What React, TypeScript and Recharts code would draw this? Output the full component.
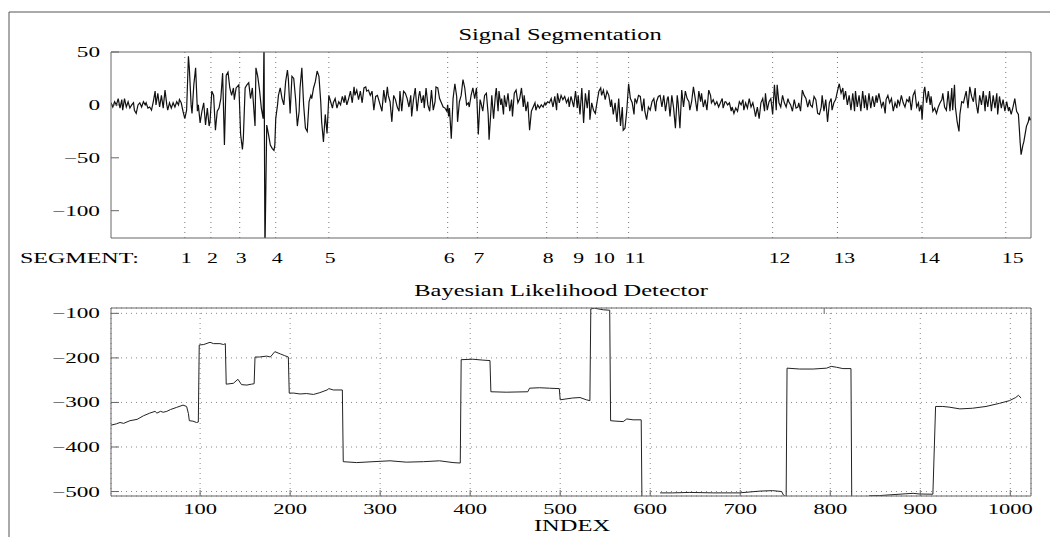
import { LineChart, Line, XAxis, YAxis, CartesianGrid, ReferenceLine } from 'recharts'

const SERIF = '"Liberation Serif", "Times New Roman", serif'
const BOX = '#666'

// segment boundaries (sample index) found by the detector
const SEG_POS = [83, 112, 144, 184, 243, 375, 408, 485, 519, 541, 576, 736, 808, 902, 995]
const SIG_TICKS = [-100, -50, 0, 50]
const DET_TICKS = [-500, -400, -300, -200, -100]
const IDX_TICKS = [100, 200, 300, 400, 500, 600, 700, 800, 900, 1000]

// [index, value]
const SIGNAL: [number, number][] = [
  [1, 2], [3, -2], [5, 3], [7, 0], [9, 6], [11, -3], [13, 5], [14, -5], [16, 6], [18, -2],
  [20, 3], [22, -3], [24, 0], [26, 2], [27, -5], [29, -8], [31, 0], [33, 2], [35, -2], [37, 3],
  [39, 0], [40, 2], [42, -3], [44, -2], [46, -5], [48, 3], [50, 13], [51, 0], [53, 11], [55, -2],
  [57, 9], [59, -3], [61, 14], [63, 0], [64, -5], [66, 2], [68, -3], [70, 2], [72, -2], [74, 3],
  [76, 0], [77, 5], [79, 2], [81, -6], [83, -13], [85, -5], [87, 46], [88, 35], [90, 0], [91, -8],
  [93, 19], [95, 35], [97, -6], [98, 0], [100, -17], [102, -6], [104, 2], [106, -19], [108, -3], [110, -20],
  [111, -16], [113, 13], [115, 9], [117, -24], [119, -6], [121, -3], [123, 6], [125, 30], [127, -38], [129, 28],
  [131, 31], [133, 16], [135, 9], [137, 16], [138, 5], [140, 16], [143, 19], [145, -28], [147, -42], [148, -32],
  [150, 16], [152, 19], [154, 21], [156, 6], [158, 16], [161, -20], [162, 35], [164, 27], [166, 14], [168, -3],
  [170, -13], [171, 62], [172, -140], [174, -19], [176, -28], [178, -38], [180, -41], [182, -43], [183, -38], [184, -13],
  [186, 0], [187, 9], [189, 16], [191, 6], [193, 0], [195, 22], [197, 33], [198, 25], [200, -8], [202, 27],
  [204, 25], [206, 6], [208, -20], [210, -6], [211, 16], [213, 35], [215, 0], [217, -22], [219, -25], [221, 3],
  [223, 9], [224, 6], [226, 16], [228, 22], [230, 32], [232, 27], [234, 3], [235, -16], [237, -35], [239, -9],
  [241, -27], [243, 9], [245, 3], [247, -3], [248, 2], [250, 6], [252, -3], [254, 3], [256, 0], [258, 8],
  [260, 2], [261, 9], [263, 0], [265, 6], [267, 13], [269, 2], [271, 17], [272, 9], [274, 14], [276, 5],
  [278, 13], [280, 2], [282, 16], [284, 17], [285, 13], [287, 14], [289, 9], [291, 13], [293, -5], [295, 8],
  [297, 9], [298, 6], [300, 0], [302, -6], [304, 14], [306, 2], [308, 17], [309, 9], [311, 3], [313, -16],
  [315, 9], [317, 5], [319, -2], [321, -6], [322, 13], [324, -6], [326, 13], [328, 11], [330, 6], [332, -2],
  [334, 9], [335, -11], [337, 5], [339, 16], [341, -6], [343, 9], [344, 13], [346, 2], [348, 9], [349, -3],
  [351, 16], [353, 0], [355, -6], [357, 14], [359, -5], [361, 3], [362, 17], [364, 16], [366, 6], [368, 2],
  [370, -2], [372, -3], [374, -6], [375, 0], [376, -11], [377, -3], [379, -32], [381, 6], [383, 20], [385, 8],
  [386, -16], [388, 3], [390, 9], [392, 24], [394, 16], [396, 0], [398, 2], [399, -2], [401, 9], [403, 16],
  [405, 6], [407, 16], [409, -28], [411, 5], [412, 2], [414, -6], [416, 9], [418, 11], [420, -9], [421, -33],
  [423, -6], [424, 9], [425, -2], [426, -13], [428, 9], [429, 16], [431, -6], [432, 13], [434, 0], [435, 6],
  [437, -9], [438, 9], [440, -2], [442, 11], [444, -6], [446, 5], [447, -11], [449, 11], [451, 14], [453, 2],
  [455, 6], [457, 16], [459, -2], [460, 9], [462, -6], [464, 3], [466, -24], [468, -6], [470, -2], [472, 2],
  [473, -5], [475, 0], [477, -3], [479, 0], [481, -2], [483, 2], [484, 0], [486, 3], [488, 2], [490, 6],
  [492, -2], [494, 8], [496, -5], [497, 11], [499, 2], [501, 9], [503, 5], [505, 8], [507, 2], [509, 6],
  [510, -2], [512, 8], [513, 5], [515, -2], [517, 13], [519, -3], [520, 9], [522, -9], [524, 16], [526, -17],
  [528, 11], [530, -3], [532, 14], [533, -14], [535, 2], [537, -5], [539, -8], [541, 3], [543, 13], [545, 16],
  [546, 9], [548, 14], [550, 5], [552, 13], [554, 9], [556, -2], [557, 5], [559, -9], [561, 2], [563, -16],
  [565, 6], [567, -20], [569, -2], [570, -24], [572, -22], [574, -5], [576, 20], [578, 6], [580, 2], [582, -9],
  [583, 6], [585, 2], [587, 9], [589, 8], [591, -6], [593, 6], [594, -6], [596, -14], [598, -2], [600, -5],
  [602, 3], [604, 6], [606, -6], [607, 3], [609, 8], [611, 9], [613, -2], [615, 9], [617, -6], [619, 6],
  [620, 8], [622, -11], [624, 9], [626, -3], [628, -22], [630, 9], [631, 2], [633, -22], [635, 14], [637, -2],
  [639, 13], [641, 6], [643, 3], [644, -5], [646, 3], [648, 17], [650, 6], [652, -6], [654, 13], [656, 3],
  [657, 11], [659, -2], [661, 5], [663, -5], [665, 14], [667, 9], [668, 2], [670, 5], [672, 0], [674, 3],
  [676, -2], [678, 2], [680, 6], [681, -3], [683, 3], [684, 3], [686, 0], [688, 2], [690, -6], [691, -2],
  [693, -8], [695, -3], [697, -6], [699, 3], [701, 0], [703, 5], [704, -5], [706, 2], [708, -3], [710, 6],
  [712, -2], [714, 2], [716, -6], [717, -11], [719, -2], [721, -13], [723, 2], [725, 6], [727, -6], [728, 11],
  [730, -5], [732, 3], [734, 6], [736, -9], [738, 19], [740, -5], [741, 19], [743, 2], [745, -2], [747, 9],
  [749, 2], [751, -2], [753, 6], [754, 3], [756, 0], [758, -6], [760, 5], [762, -3], [764, -2], [765, 2],
  [767, -6], [769, 14], [771, 9], [773, 6], [775, -2], [777, 5], [778, 0], [780, -2], [782, 8], [784, 5],
  [786, -8], [788, -9], [790, -2], [791, 9], [793, -6], [795, 5], [797, -16], [799, 2], [801, 6], [802, -5],
  [804, 2], [806, 5], [808, 13], [810, 20], [812, 11], [814, 16], [815, 5], [817, 13], [819, 0], [821, 9],
  [823, -5], [825, 11], [827, -6], [828, 13], [830, -2], [832, 9], [834, -6], [836, 13], [838, -3], [839, 9],
  [841, -5], [843, 11], [845, -3], [847, 8], [849, -2], [851, 9], [852, 2], [854, 11], [857, -2], [859, 3],
  [861, -8], [862, 5], [864, 9], [866, 2], [868, 6], [870, -6], [872, 2], [874, -3], [875, 5], [877, 0],
  [879, 9], [881, 2], [883, -2], [885, 5], [887, 3], [888, 8], [890, -5], [892, 9], [894, 13], [896, -2],
  [898, 2], [899, -6], [901, 0], [902, -14], [904, 13], [905, 17], [907, 2], [909, 13], [911, 0], [912, 8],
  [914, -6], [916, -3], [918, -8], [920, -2], [922, 2], [924, 5], [925, 11], [927, -2], [929, -5], [931, 13],
  [933, -6], [935, 16], [936, -5], [938, 19], [939, -2], [941, -16], [943, -25], [944, -9], [946, 3], [948, 2],
  [949, 6], [951, 13], [953, -3], [955, 17], [957, 8], [959, 3], [961, 16], [962, 2], [964, -8], [966, 9],
  [968, 0], [970, 13], [972, -6], [973, 9], [975, -2], [977, 13], [979, -6], [981, 9], [983, -3], [985, 11],
  [986, -9], [988, 8], [990, -3], [992, 5], [994, -6], [996, 3], [998, -6], [999, -2], [1001, -9], [1003, -2],
  [1005, 6], [1007, -6], [1009, -9], [1010, -22], [1011, -36], [1012, -47], [1014, -38], [1015, -35], [1017, -25], [1018, -20],
  [1020, -16], [1021, -11], [1022, -14], [1023, -13],
]

// log likelihood of the detector; null = below the plotted range
const DETECTOR: [number, number | null][] = [
  [1, -351], [7, -348], [11, -345], [15, -347], [22, -341], [30, -338], [37, -330], [44, -324], [50, -320], [52, -324],
  [56, -320], [59, -322], [63, -320], [67, -316], [74, -311], [81, -306], [85, -309], [87, -325], [88, -341], [92, -342],
  [96, -345], [98, -344], [99, -171], [104, -170], [111, -165], [115, -168], [122, -168], [126, -170], [128, -168], [129, -259],
  [137, -257], [142, -248], [146, -260], [152, -261], [157, -259], [160, -258], [161, -198], [166, -198], [174, -196], [178, -198],
  [183, -186], [189, -191], [194, -195], [198, -198], [199, -279], [204, -279], [211, -281], [218, -280], [226, -282], [233, -278],
  [241, -272], [243, -269], [248, -272], [258, -272], [259, -433], [274, -435], [292, -433], [311, -431], [329, -434], [348, -433],
  [366, -431], [381, -435], [389, -436], [390, -204], [403, -203], [414, -205], [422, -206], [423, -276], [440, -277], [464, -276],
  [466, -268], [477, -267], [488, -268], [499, -269], [500, -294], [514, -290], [522, -289], [529, -294], [533, -296], [534, -90],
  [538, -88.5], [548, -92], [555, -93], [556, -341], [562, -342], [570, -343], [574, -337], [581, -339], [590, -339], [591, -560],
  [592, null], [610, null], [611, -503], [625, -503], [644, -502], [670, -503], [699, -503], [722, -499], [736, -498], [746, -500],
  [748, -508], [751, -512], [752, -223], [766, -225], [781, -225], [796, -223], [801, -219], [807, -221], [814, -224], [823, -224],
  [824, -560], [825, null], [842, null], [843, -509.5], [855, -509], [873, -506.5], [892, -504], [899, -505.5], [914, -506], [917, -309],
  [925, -309], [932, -310.5], [944, -314.5], [958, -313], [973, -309], [988, -302], [999, -296], [1006, -289], [1009, -284], [1012, -290],
]

const signalData = SIGNAL.map(([i, v]) => ({ i, v }))
const detectorData = DETECTOR.map(([i, v]) => ({ i, v }))

const fmt = (v: number) => (v < 0 ? `\u2212${Math.abs(v)}` : `${v}`)

// matlab-ish stretched serif text
function Txt({ x, y, size, sx, anchor = 'start', children }: any) {
  return (
    <text
      transform={`translate(${x} ${y}) scale(${sx} 1)`}
      textAnchor={anchor}
      fontSize={size}
      fontFamily={SERIF}
      fill="#000"
    >
      {children}
    </text>
  )
}

const leftTick = (p: any) => (
  <g>
    <line x1={p.x} x2={p.x + 8} y1={p.y} y2={p.y} stroke={BOX} />
    <Txt x={p.x - 11} y={p.y + 5} anchor="end" size={15} sx={1.55}>
      {fmt(p.payload.value)}
    </Txt>
  </g>
)
const rightTick = (p: any) => <line x1={p.x - 8} x2={p.x} y1={p.y} y2={p.y} stroke={BOX} />
const bottomTick = (p: any) => (
  <g>
    <line x1={p.x} x2={p.x} y1={p.y - 6} y2={p.y} stroke={BOX} />
    <Txt x={p.x} y={p.y + 18} anchor="middle" size={15} sx={1.5}>
      {p.payload.value}
    </Txt>
  </g>
)
const topTick = (p: any) => <line x1={p.x} x2={p.x} y1={p.y} y2={p.y + 6} stroke={BOX} />
const segTick = (p: any) => (
  <Txt x={p.x - 4} y={p.y + 25} size={15} sx={1.45}>
    {SEG_POS.indexOf(p.payload.value) + 1}
  </Txt>
)

const X_DOMAIN: [number, number] = [1, 1023]

function SignalPanel() {
  return (
    <LineChart width={1050} height={270} data={signalData} margin={{ top: 51, right: 18, bottom: 2, left: 0 }}>
      <XAxis dataKey="i" type="number" domain={X_DOMAIN} allowDataOverflow ticks={SEG_POS} interval={0}
        tick={segTick} tickLine={false} tickSize={0} tickMargin={0} height={30} stroke={BOX} />
      <XAxis xAxisId="top" orientation="top" type="number" domain={X_DOMAIN} tick={false} height={1} stroke={BOX} />
      <YAxis type="number" domain={[-125.8, 50]} allowDataOverflow ticks={SIG_TICKS} interval={0}
        tick={leftTick} tickLine={false} tickSize={0} tickMargin={0} width={111} stroke={BOX} />
      <YAxis yAxisId="right" orientation="right" type="number" domain={[-125.8, 50]} ticks={SIG_TICKS} interval={0}
        tick={rightTick} tickLine={false} tickSize={0} tickMargin={0} width={1} stroke={BOX} />
      {SEG_POS.map((s) => (
        <ReferenceLine key={s} x={s} stroke="#777" strokeDasharray="1 4" />
      ))}
      <Line dataKey="v" type="linear" stroke="#111" strokeWidth={1.2} dot={false} isAnimationActive={false} />
    </LineChart>
  )
}

function DetectorPanel() {
  return (
    <LineChart width={1050} height={267} data={detectorData} margin={{ top: 37, right: 18, bottom: 11, left: 0 }}>
      <CartesianGrid stroke="#888" strokeDasharray="1 4" />
      <XAxis dataKey="i" type="number" domain={X_DOMAIN} allowDataOverflow ticks={IDX_TICKS} interval={0}
        tick={bottomTick} tickLine={false} tickSize={0} tickMargin={0} height={30} stroke={BOX} />
      <XAxis xAxisId="top" orientation="top" type="number" domain={X_DOMAIN} ticks={IDX_TICKS} interval={0}
        tick={topTick} tickLine={false} tickSize={0} tickMargin={0} height={1} stroke={BOX} />
      <YAxis type="number" domain={[-510, -88]} allowDataOverflow ticks={DET_TICKS} interval={0}
        tick={leftTick} tickLine={false} tickSize={0} tickMargin={0} width={111} stroke={BOX} />
      <YAxis yAxisId="right" orientation="right" type="number" domain={[-510, -88]} ticks={DET_TICKS} interval={0}
        tick={rightTick} tickLine={false} tickSize={0} tickMargin={0} width={1} stroke={BOX} />
      <Line dataKey="v" type="linear" stroke="#222" strokeWidth={1} dot={false} connectNulls={false} isAnimationActive={false} />
    </LineChart>
  )
}

export default function App() {
  return (
    <div style={{ position: 'relative', width: 1050, height: 537, overflow: 'hidden', background: '#fff' }}>
      <style>{'body{margin:0;overflow:hidden}'}</style>
      <div style={{ position: 'absolute', left: 0, top: 0 }}>
        <SignalPanel />
      </div>
      <div style={{ position: 'absolute', left: 0, top: 270 }}>
        <DetectorPanel />
      </div>
      <svg width={1050} height={537} style={{ position: 'absolute', left: 0, top: 0, pointerEvents: 'none' }}>
        <line x1={9} y1={12} x2={1050} y2={12} stroke="#555" />
        <line x1={9} y1={12} x2={9} y2={537} stroke="#555" />
        <Txt x={560} y={40} anchor="middle" size={17.5} sx={1.4}>Signal Segmentation</Txt>
        <Txt x={20} y={263} size={15.5} sx={1.55}>SEGMENT:</Txt>
        <Txt x={561} y={296} anchor="middle" size={17.5} sx={1.4}>Bayesian Likelihood Detector</Txt>
        <Txt x={572} y={531} anchor="middle" size={17.5} sx={1.4}>INDEX</Txt>
      </svg>
    </div>
  )
}
